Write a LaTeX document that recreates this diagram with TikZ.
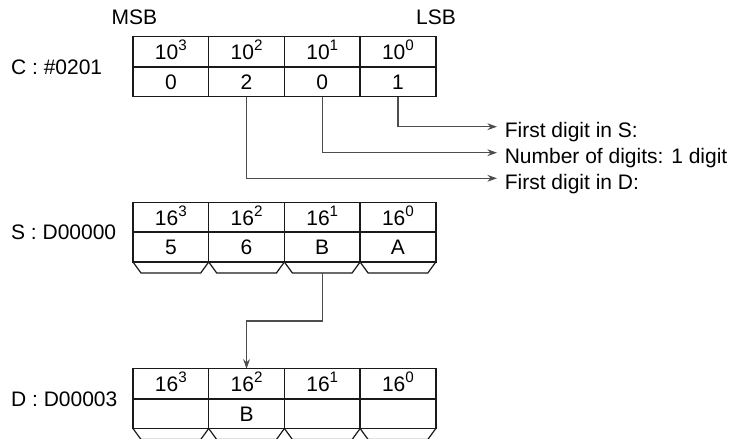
\documentclass[tikz,border=0pt]{standalone}
\usepackage{fontspec}
\setmainfont{Liberation Sans}
\usepackage{xcolor}
\definecolor{cLine}{HTML}{1A1A1A}
\definecolor{cLink}{HTML}{4D4D4D}
\usepackage{tikz}
\usetikzlibrary{positioning,arrows.meta}
\newcommand{\pw}[1]{\raisebox{4.5pt}{\fontsize{7.6}{8}\selectfont #1}}
\tikzset{
  cell/.style={draw=cLine,line width=0.7pt,minimum width=37.85pt,
    inner sep=0pt,outer sep=0pt,text height=7.5pt,text depth=0pt},
  cell-pow/.style={cell,minimum height=15.25pt},
  cell-dig/.style={cell,minimum height=15pt},
  chevron/.style={draw=cLine,line width=0.6pt},
  reg-label/.style={inner sep=0pt,text height=7.5pt,text depth=0pt},
  note/.style={anchor=west,inner xsep=3.7pt,inner ysep=0pt,
    text height=11pt,text depth=0pt},
  link/.style={draw=cLink,line width=0.6pt},
  arrow/.style={link,-{Stealth[length=4.8pt,width=3.4pt]}},
}
\begin{document}
\begin{tikzpicture}[x=0.5pt,y=-0.5pt,font=\fontsize{10.5}{12.6}\selectfont]
  \useasboundingbox (0,0) rectangle (734,439);
  \node[reg-label] (msb) at (134.5,17.5) {MSB};
  \node[reg-label] (lsb) at (436,17.5) {LSB};
  % C : control word
  \node[reg-label,anchor=west] (C-lab) at (10.7,66.5) {C : \#0201};
  \foreach \i/\v [count=\k from 0] in {3/0,2/2,1/0,0/1} {
    \node[cell-pow] (C-p\i) at ({170.85+75.7*\k},52) {10\pw{\i}};
    \node[cell-dig] (C-d\i) at ({170.85+75.7*\k},81.5) {\v};
  }
  % S : source word
  \node[reg-label,anchor=west] (S-lab) at (10.7,232) {S : D00000};
  \foreach \i/\v [count=\k from 0] in {3/5,2/6,1/B,0/A} {
    \node[cell-pow] (S-p\i) at ({170.85+75.7*\k},217.5) {16\pw{\i}};
    \node[cell-dig] (S-d\i) at ({170.85+75.7*\k},247) {\v};
    \draw[chevron] (S-d\i.south west) -- ++(8,11) -- ++(59.7,0) -- (S-d\i.south east);
  }
  % D : destination word
  \node[reg-label,anchor=west] (D-lab) at (10.7,398.5) {D : D00003};
  \foreach \i/\v [count=\k from 0] in {3/,2/B,1/,0/} {
    \node[cell-pow] (D-p\i) at ({170.85+75.7*\k},384) {16\pw{\i}};
    \node[cell-dig] (D-d\i) at ({170.85+75.7*\k},413.5) {\v};
    \draw[chevron] (D-d\i.south west) -- ++(8,11) -- ++(59.7,0) -- (D-d\i.south east);
  }
  \node[note] (firstS) at (497,126.7) {First digit in S:};
  \node[note] (numDig) at (497,152.7) {Number of digits: 1 digit};
  \node[note] (firstD) at (497,178.3) {First digit in D:};
  \draw[arrow] (C-d0.south) |- (firstS.west);
  \draw[arrow] (C-d1.south) |- (numDig.west);
  \draw[arrow] (C-d2.south) |- (firstD.west);
  \draw[arrow] ([yshift=-5.5pt]S-d1.south) -- ++(0,48) -| (D-p2.north);
\end{tikzpicture}
\end{document}
